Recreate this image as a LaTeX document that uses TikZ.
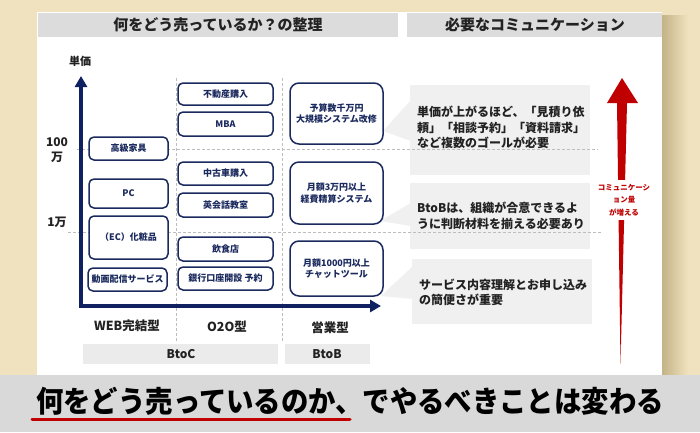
\documentclass[tikz,border=0pt]{standalone}
\usepackage{fontspec}
\setmainfont{Noto Sans CJK JP}
\usetikzlibrary{arrows.meta}
\definecolor{beige}{HTML}{F0E2BE}
\definecolor{shadowc}{HTML}{C4B386}
\definecolor{hdr}{HTML}{DCDCDC}
\definecolor{navy}{HTML}{1B2A5E}
\definecolor{axisc}{HTML}{0F2160}
\definecolor{callg}{HTML}{F0F0F0}
\definecolor{barg}{HTML}{EBEBEB}
\definecolor{redd}{HTML}{C00000}
\definecolor{dashc}{HTML}{BDBDBD}
\definecolor{band}{HTML}{D9D9D9}
\definecolor{ink}{HTML}{222222}
\begin{document}
\begin{tikzpicture}[x=1pt,y=-1pt,
  box/.style={draw=navy, line width=1.5pt, fill=white, rounded corners=5pt,
    font=\fontsize{9}{11.5}\selectfont\bfseries, text=navy, align=center, inner sep=0pt},
  bigbox/.style={box, rounded corners=9pt},
  col1/.style={box, minimum width=79pt},
  col2/.style={box, minimum width=95pt},
  col3/.style={bigbox, minimum width=93pt},
  gridline/.style={draw=dashc, line width=0.8pt, dash pattern=on 3pt off 2pt},
  callout/.style={fill=callg},
  calltext/.style={anchor=west, align=left, text=ink, font=\fontsize{12}{15.5}\selectfont\bfseries, inner sep=0pt},
  hdrtext/.style={font=\fontsize{15}{18}\selectfont\bfseries, text=ink},
  axlabel/.style={font=\fontsize{12}{15}\selectfont\bfseries, text=ink, align=center},
  bartext/.style={font=\fontsize{12}{14}\selectfont\bfseries, text=ink}
]
\useasboundingbox (0,0) rectangle (700,432);
% background
\fill[beige] (0,0) rectangle (700,432);
\shade[left color=shadowc, right color=beige] (662,15) rectangle (688,375);
\fill[white] (37,12) rectangle (662,375);
% headers
\fill[hdr] (38,13) rectangle (398,37);
\fill[hdr] (407,13) rectangle (662,37);
\node[hdrtext] (h1) at (218,25) {何をどう売っているか？の整理};
\node[hdrtext] (h2) at (535,25) {必要なコミュニケーション};
% callouts
\fill[callout] (410,85) rectangle (590,175);
\fill[callout] (411,100) -- (383,131) -- (411,141) -- cycle;
\fill[callout] (410,183) rectangle (590,249);
\fill[callout] (411,203) -- (380,221) -- (411,226) -- cycle;
\fill[callout] (412,259) -- (592,259) -- (592,324) -- (412,324) -- cycle;
\fill[callout] (413,266) -- (381,296) -- (413,299) -- cycle;
% grid lines
\draw[gridline] (77,149) -- (598,149);
\draw[gridline] (68,232) -- (602,232);
\draw[gridline] (176,78) -- (176,342);
\draw[gridline] (282,78) -- (282,342);
% axes
\coordinate (ytip) at (81,76);
\coordinate (origin) at (81,306);
\coordinate (xtip) at (381,306);
\draw[axisc, line width=3.5pt, line join=miter, {Triangle[width=12pt,length=11pt]}-{Triangle[width=12pt,length=11pt]}] (ytip) -- (origin) -- (xtip);
\node[axlabel, font=\fontsize{11}{13}\selectfont\bfseries] (ylab) at (80,61) {単価};
\node[axlabel, font=\fontsize{12}{15}\selectfont\bfseries] (l100) at (57,150) {100\\万};
\node[axlabel, font=\fontsize{12}{15}\selectfont\bfseries] (l1) at (57,222) {1万};
% column 1
\node[col1, minimum height=23pt] (b11) at (128.5,148.5) {高級家具};
\node[col1, minimum height=29pt] (b12) at (128.5,193.5) {PC};
\node[col1, minimum height=43pt] (b13) at (128.5,237.5) {（EC）化粧品};
\node[col1, minimum height=23pt] (b14) at (127.5,279.5) {動画配信サービス};
% column 2
\node[col2, minimum height=22pt] (b21) at (225.5,94) {不動産購入};
\node[col2, minimum height=24pt] (b22) at (225.5,124) {MBA};
\node[col2, minimum height=23pt] (b23) at (225.5,173.5) {中古車購入};
\node[col2, minimum height=24pt] (b24) at (225.5,205) {英会話教室};
\node[col2, minimum height=24pt] (b25) at (225.5,249) {飲食店};
\node[col2, minimum height=23pt] (b26) at (225.5,278.5) {銀行口座開設 予約};
% column 3
\node[col3, minimum height=61pt] (b31) at (336.5,113.5) {予算数千万円\\大規模システム改修};
\node[col3, minimum height=62pt] (b32) at (336.5,193) {月額3万円以上\\経費精算システム};
\node[col3, minimum height=55pt] (b33) at (336.5,268.5) {月額1000円以上\\チャットツール};
% callout texts
\node[calltext] (c1) at (417,127.5) {単価が上がるほど、「見積り依\\頼」「相談予約」「資料請求」\\など複数のゴールが必要};
\node[calltext] (c2) at (417,216) {BtoBは、組織が合意できるよ\\うに判断材料を揃える必要あり};
\node[calltext] (c3) at (419,292.5) {サービス内容理解とお申し込み\\の簡便さが重要};
% x labels
\node[axlabel, font=\fontsize{12.5}{15}\selectfont\bfseries] (x1) at (127,326) {WEB完結型};
\node[axlabel, font=\fontsize{12.5}{15}\selectfont\bfseries] (x2) at (227,327) {O2O型};
\node[axlabel, font=\fontsize{12.5}{15}\selectfont\bfseries] (x3) at (330,328) {営業型};
\fill[barg] (83,344) rectangle (278,364);
\fill[barg] (285,344) rectangle (370,364);
\node[bartext] (btoc) at (181,354) {BtoC};
\node[bartext] (btob) at (327,354) {BtoB};
% red arrow
\fill[redd] (622,78) -- (638,103) -- (627,103) -- (620.5,364) -- (617,103) -- (607,103) -- cycle;
\node[fill=white, text=redd, font=\fontsize{7.5}{12.5}\selectfont\bfseries, align=center, inner xsep=1pt, inner ysep=4pt] (redlab) at (624,200) {コミュニケーシ\\ョン量\\が増える};
% bottom band
\fill[band] (0,375) rectangle (700,432);
\node[font=\fontsize{29.5}{32}\selectfont\bfseries, text=black] (bottom) at (350,401) {\scalebox{0.928}[1]{何をどう売っているのか、でやるべきことは変わる}};
\coordinate (ul1) at (32,419);
\coordinate (ul2) at (350,419);
\draw[redd, line width=3pt, line cap=round] (ul1) -- (ul2);
\end{tikzpicture}
\end{document}
